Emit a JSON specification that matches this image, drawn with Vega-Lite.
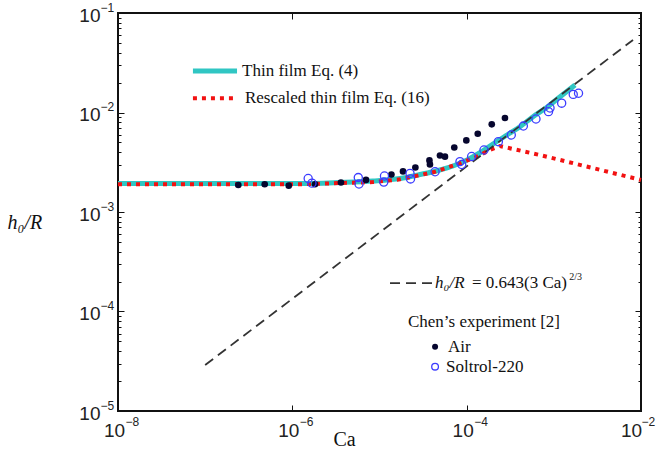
{
  "$schema": "https://vega.github.io/schema/vega-lite/v6.json",
  "width": 523,
  "height": 398,
  "autosize": "none",
  "padding": {"left": 118, "top": 13, "right": 18, "bottom": 43},
  "background": "white",
  "config": {
    "view": {"stroke": "#111", "strokeWidth": 2},
    "axis": {"grid": false, "domain": false, "tickColor": "#111", "labelColor": "#222", "labelFlush": false, "labelOverlap": false}
  },
  "datasets": {
    "thin": [
      {"Ca": 1e-8, "h": 0.00193}, {"Ca": 1e-7, "h": 0.00193}, {"Ca": 1.22e-6, "h": 0.00193},
      {"Ca": 3.52e-6, "h": 0.00198}, {"Ca": 8.41e-6, "h": 0.00205}, {"Ca": 1.72e-5, "h": 0.00217},
      {"Ca": 2.91e-5, "h": 0.00238}, {"Ca": 4.57e-5, "h": 0.0026}, {"Ca": 6.97e-5, "h": 0.0029},
      {"Ca": 1.01e-4, "h": 0.00333}, {"Ca": 1.42e-4, "h": 0.00394}, {"Ca": 2.0e-4, "h": 0.00482},
      {"Ca": 2.9e-4, "h": 0.00594}, {"Ca": 4.09e-4, "h": 0.00719}, {"Ca": 5.77e-4, "h": 0.00908},
      {"Ca": 8.34e-4, "h": 0.0113}, {"Ca": 1.18e-3, "h": 0.0144}, {"Ca": 1.75e-3, "h": 0.0189}
    ],
    "rescaled": [
      {"Ca": 1e-8, "h": 0.0019}, {"Ca": 1.22e-6, "h": 0.0019}, {"Ca": 8.41e-6, "h": 0.002},
      {"Ca": 1.72e-5, "h": 0.00213}, {"Ca": 4.22e-5, "h": 0.00252}, {"Ca": 8.38e-5, "h": 0.00308},
      {"Ca": 1.31e-4, "h": 0.0036}, {"Ca": 1.85e-4, "h": 0.0042}, {"Ca": 2.41e-4, "h": 0.0046},
      {"Ca": 6.93e-4, "h": 0.00374}, {"Ca": 1e-2, "h": 0.0021}
    ],
    "scaling": [
      {"Ca": 1e-7, "h": 2.9e-5}, {"Ca": 8.1e-3, "h": 0.0536}
    ],
    "air": [
      {"Ca": 2.40e-7, "h": 1.87e-3}, {"Ca": 4.82e-7, "h": 1.90e-3}, {"Ca": 9.10e-7, "h": 1.84e-3},
      {"Ca": 1.82e-6, "h": 1.90e-3}, {"Ca": 3.61e-6, "h": 1.98e-3}, {"Ca": 7.00e-6, "h": 2.10e-3},
      {"Ca": 1.37e-5, "h": 2.38e-3}, {"Ca": 1.86e-5, "h": 2.56e-3}, {"Ca": 2.58e-5, "h": 2.80e-3},
      {"Ca": 3.74e-5, "h": 3.30e-3}, {"Ca": 3.79e-5, "h": 3.01e-3}, {"Ca": 4.94e-5, "h": 3.70e-3},
      {"Ca": 5.64e-5, "h": 3.60e-3}, {"Ca": 7.21e-5, "h": 4.45e-3}, {"Ca": 9.91e-5, "h": 5.24e-3},
      {"Ca": 1.34e-4, "h": 6.12e-3}, {"Ca": 1.94e-4, "h": 7.60e-3}, {"Ca": 2.75e-4, "h": 8.81e-3}
    ],
    "soltrol": [
      {"Ca": 1.52e-6, "h": 2.17e-3}, {"Ca": 1.68e-6, "h": 1.95e-3}, {"Ca": 5.71e-6, "h": 2.22e-3},
      {"Ca": 5.82e-6, "h": 1.91e-3}, {"Ca": 1.14e-5, "h": 2.30e-3}, {"Ca": 1.12e-5, "h": 2.00e-3},
      {"Ca": 2.24e-5, "h": 2.44e-3}, {"Ca": 2.27e-5, "h": 2.15e-3}, {"Ca": 4.34e-5, "h": 2.54e-3},
      {"Ca": 8.38e-5, "h": 3.21e-3}, {"Ca": 8.77e-5, "h": 3.00e-3}, {"Ca": 1.14e-4, "h": 3.61e-3},
      {"Ca": 1.58e-4, "h": 4.20e-3}, {"Ca": 2.31e-4, "h": 5.09e-3}, {"Ca": 3.25e-4, "h": 5.94e-3},
      {"Ca": 4.47e-4, "h": 7.31e-3}, {"Ca": 6.24e-4, "h": 8.61e-3}, {"Ca": 8.69e-4, "h": 1.02e-2},
      {"Ca": 9.04e-4, "h": 1.11e-2}, {"Ca": 1.23e-3, "h": 1.24e-2}, {"Ca": 1.67e-3, "h": 1.52e-2},
      {"Ca": 1.92e-3, "h": 1.56e-2}
    ],
    "legThin": [{"Ca": 7.24e-8, "h": 0.0261}, {"Ca": 2.32e-7, "h": 0.0261}],
    "legRescaled": [{"Ca": 7.24e-8, "h": 0.0139}, {"Ca": 2.32e-7, "h": 0.0139}],
    "legScaling": [{"Ca": 1.32e-5, "h": 1.93e-4}, {"Ca": 4.0e-5, "h": 1.93e-4}],
    "legAir": [{"Ca": 4.34e-5, "h": 4.43e-5}],
    "legSoltrol": [{"Ca": 4.34e-5, "h": 2.79e-5}],
    "legText": [
      {"Ca": 2.65e-7, "h": 0.0261, "label": "Thin film Eq. (4)"},
      {"Ca": 2.86e-7, "h": 0.0139, "label": "Rescaled thin film Eq.  (16)"},
      {"Ca": 1.15e-4, "h": 1.93e-4, "label": "= 0.643(3 Ca)"},
      {"Ca": 2.12e-5, "h": 7.91e-5, "label": "Chen’s experiment  [2]"},
      {"Ca": 6.11e-5, "h": 4.43e-5, "label": "Air"},
      {"Ca": 5.79e-5, "h": 2.79e-5, "label": "Soltrol-220"}
    ],
    "legItalic": [{"Ca": 4.34e-5, "h": 1.93e-4, "label": "h₀/R"}],
    "legSup": [{"Ca": 1.5e-3, "h": 2.22e-4, "label": "2/3"}]
  },
  "layer": [
    {
      "data": {"name": "thin"},
      "mark": {"type": "line", "color": "#30c6c3", "strokeWidth": 5, "interpolate": "monotone"},
      "encoding": {
        "x": {"field": "Ca", "type": "quantitative", "scale": {"type": "log", "domain": [1e-8, 1e-2], "nice": false},
          "axis": {"orient": "bottom", "values": [1e-8, 1e-6, 1e-4, 1e-2], "labelExpr": "'10'", "labelFont": "Liberation Sans", "labelFontSize": 19, "tickSize": -6, "labelPadding": 16,
            "labelOffset": {"condition": {"test": "datum.value > 0.005", "value": -10}, "value": -4},
            "title": "Ca", "titleFont": "Liberation Serif", "titleFontSize": 20, "titleFontWeight": "normal", "titleColor": "#111", "titleX": 226, "titleY": 34, "titleAlign": "center", "titleBaseline": "alphabetic"}},
        "y": {"field": "h", "type": "quantitative", "scale": {"type": "log", "domain": [1e-5, 0.1], "nice": false},
          "axis": {"orient": "left", "values": [1e-5, 1e-4, 1e-3, 1e-2, 1e-1], "labelExpr": "'10'", "labelFont": "Liberation Sans", "labelFontSize": 19, "tickSize": -6, "labelPadding": 24, "labelOffset": 2,
            "title": "h₀/R", "titleFont": "Liberation Serif", "titleFontStyle": "italic", "titleFontSize": 20, "titleFontWeight": "normal", "titleColor": "#111", "titleAngle": 0, "titleX": -111, "titleY": 215, "titleAlign": "left", "titleBaseline": "alphabetic"}}
      }
    },
    {
      "data": {"name": "rescaled"},
      "mark": {"type": "line", "color": "#f21212", "strokeWidth": 4, "strokeDash": [4, 5], "strokeCap": "butt"},
      "encoding": {
        "x": {"field": "Ca", "type": "quantitative", "scale": {"type": "log", "domain": [1e-8, 1e-2], "nice": false},
          "axis": {"orient": "bottom", "values": [1e-8, 1e-6, 1e-4, 1e-2], "labelExpr": "'−' + round(-log(datum.value)/LN10)", "labelFont": "Liberation Sans", "labelFontSize": 12, "labelAlign": "left", "ticks": false, "labelPadding": 5, "title": null,
            "labelOffset": {"condition": {"test": "datum.value > 0.005", "value": 0}, "value": 7}}},
        "y": {"field": "h", "type": "quantitative", "scale": {"type": "log", "domain": [1e-5, 0.1], "nice": false},
          "axis": {"orient": "left", "values": [1e-5, 1e-4, 1e-3, 1e-2, 1e-1], "labelExpr": "'−' + round(-log(datum.value)/LN10)", "labelFont": "Liberation Sans", "labelFontSize": 12, "labelAlign": "left", "labelPadding": 18, "labelOffset": -6, "ticks": false, "title": null}}
      }
    },
    {
      "data": {"name": "scaling"},
      "mark": {"type": "line", "color": "#333", "strokeWidth": 1.8, "strokeDash": [10, 6]},
      "encoding": {
        "x": {"field": "Ca", "type": "quantitative", "scale": {"type": "log", "domain": [1e-8, 1e-2], "nice": false},
          "axis": {"orient": "top", "values": [1e-6, 1e-4], "labels": false, "tickSize": -6, "title": null}},
        "y": {"field": "h", "type": "quantitative", "scale": {"type": "log", "domain": [1e-5, 0.1], "nice": false},
          "axis": {"orient": "right", "values": [1e-5, 1e-4, 1e-3, 1e-2, 1e-1], "labels": false, "tickSize": -6, "title": null}}
      }
    },
    {
      "data": {"name": "air"},
      "mark": {"type": "point", "filled": true, "size": 44, "color": "#06062e", "opacity": 1},
      "encoding": {
        "x": {"field": "Ca", "type": "quantitative", "scale": {"type": "log", "domain": [1e-8, 1e-2], "nice": false}, "axis": null},
        "y": {"field": "h", "type": "quantitative", "scale": {"type": "log", "domain": [1e-5, 0.1], "nice": false},
          "axis": {"orient": "left", "values": [2e-5, 3e-5, 4e-5, 5e-5, 6e-5, 7e-5, 8e-5, 9e-5, 2e-4, 3e-4, 4e-4, 5e-4, 6e-4, 7e-4, 8e-4, 9e-4, 2e-3, 3e-3, 4e-3, 5e-3, 6e-3, 7e-3, 8e-3, 9e-3, 2e-2, 3e-2, 4e-2, 5e-2, 6e-2, 7e-2, 8e-2, 9e-2], "labels": false, "tickSize": -3, "title": null}}
      }
    },
    {
      "data": {"name": "soltrol"},
      "mark": {"type": "point", "filled": false, "size": 66, "color": "#3c3cff", "strokeWidth": 1.3, "opacity": 1},
      "encoding": {
        "x": {"field": "Ca", "type": "quantitative", "scale": {"type": "log", "domain": [1e-8, 1e-2], "nice": false}, "axis": null},
        "y": {"field": "h", "type": "quantitative", "scale": {"type": "log", "domain": [1e-5, 0.1], "nice": false},
          "axis": {"orient": "right", "values": [2e-5, 3e-5, 4e-5, 5e-5, 6e-5, 7e-5, 8e-5, 9e-5, 2e-4, 3e-4, 4e-4, 5e-4, 6e-4, 7e-4, 8e-4, 9e-4, 2e-3, 3e-3, 4e-3, 5e-3, 6e-3, 7e-3, 8e-3, 9e-3, 2e-2, 3e-2, 4e-2, 5e-2, 6e-2, 7e-2, 8e-2, 9e-2], "labels": false, "tickSize": -3, "title": null}}
      }
    },
    {
      "data": {"name": "legThin"},
      "mark": {"type": "line", "color": "#30c6c3", "strokeWidth": 5},
      "encoding": {
        "x": {"field": "Ca", "type": "quantitative", "scale": {"type": "log", "domain": [1e-8, 1e-2], "nice": false}, "axis": null},
        "y": {"field": "h", "type": "quantitative", "scale": {"type": "log", "domain": [1e-5, 0.1], "nice": false}, "axis": null}
      }
    },
    {
      "data": {"name": "legRescaled"},
      "mark": {"type": "line", "color": "#f21212", "strokeWidth": 4, "strokeDash": [4, 5], "strokeCap": "butt"},
      "encoding": {
        "x": {"field": "Ca", "type": "quantitative", "scale": {"type": "log", "domain": [1e-8, 1e-2], "nice": false}, "axis": null},
        "y": {"field": "h", "type": "quantitative", "scale": {"type": "log", "domain": [1e-5, 0.1], "nice": false}, "axis": null}
      }
    },
    {
      "data": {"name": "legScaling"},
      "mark": {"type": "line", "color": "#333", "strokeWidth": 1.8, "strokeDash": [10, 6]},
      "encoding": {
        "x": {"field": "Ca", "type": "quantitative", "scale": {"type": "log", "domain": [1e-8, 1e-2], "nice": false}, "axis": null},
        "y": {"field": "h", "type": "quantitative", "scale": {"type": "log", "domain": [1e-5, 0.1], "nice": false}, "axis": null}
      }
    },
    {
      "data": {"name": "legAir"},
      "mark": {"type": "point", "filled": true, "size": 36, "color": "#06062e", "opacity": 1},
      "encoding": {
        "x": {"field": "Ca", "type": "quantitative", "scale": {"type": "log", "domain": [1e-8, 1e-2], "nice": false}, "axis": null},
        "y": {"field": "h", "type": "quantitative", "scale": {"type": "log", "domain": [1e-5, 0.1], "nice": false}, "axis": null}
      }
    },
    {
      "data": {"name": "legSoltrol"},
      "mark": {"type": "point", "filled": false, "size": 45, "color": "#3c3cff", "strokeWidth": 1.3, "opacity": 1},
      "encoding": {
        "x": {"field": "Ca", "type": "quantitative", "scale": {"type": "log", "domain": [1e-8, 1e-2], "nice": false}, "axis": null},
        "y": {"field": "h", "type": "quantitative", "scale": {"type": "log", "domain": [1e-5, 0.1], "nice": false}, "axis": null}
      }
    },
    {
      "data": {"name": "legText"},
      "mark": {"type": "text", "align": "left", "baseline": "middle", "font": "Liberation Serif", "fontSize": 17, "color": "#111"},
      "encoding": {
        "x": {"field": "Ca", "type": "quantitative", "scale": {"type": "log", "domain": [1e-8, 1e-2], "nice": false}, "axis": null},
        "y": {"field": "h", "type": "quantitative", "scale": {"type": "log", "domain": [1e-5, 0.1], "nice": false}, "axis": null},
        "text": {"field": "label"}
      }
    },
    {
      "data": {"name": "legItalic"},
      "mark": {"type": "text", "align": "left", "baseline": "middle", "font": "Liberation Serif", "fontStyle": "italic", "fontSize": 17, "color": "#111"},
      "encoding": {
        "x": {"field": "Ca", "type": "quantitative", "scale": {"type": "log", "domain": [1e-8, 1e-2], "nice": false}, "axis": null},
        "y": {"field": "h", "type": "quantitative", "scale": {"type": "log", "domain": [1e-5, 0.1], "nice": false}, "axis": null},
        "text": {"field": "label"}
      }
    },
    {
      "data": {"name": "legSup"},
      "mark": {"type": "text", "align": "left", "baseline": "middle", "font": "Liberation Serif", "fontSize": 10, "color": "#111"},
      "encoding": {
        "x": {"field": "Ca", "type": "quantitative", "scale": {"type": "log", "domain": [1e-8, 1e-2], "nice": false}, "axis": null},
        "y": {"field": "h", "type": "quantitative", "scale": {"type": "log", "domain": [1e-5, 0.1], "nice": false}, "axis": null},
        "text": {"field": "label"}
      }
    }
  ],
  "resolve": {"axis": {"x": "independent", "y": "independent"}}
}
